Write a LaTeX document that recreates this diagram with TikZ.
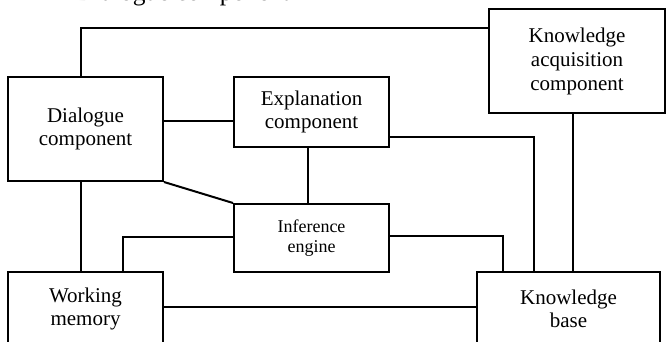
\documentclass[tikz,border=0pt]{standalone}
\usepackage{fontspec}
\setmainfont{Liberation Serif}
\begin{document}
\begin{tikzpicture}[x=1pt,y=-1pt,
  box/.style={draw, line width=2pt, align=center, inner sep=0pt,
    font=\fontsize{21}{23}\selectfont},
  smallbox/.style={box, font=\fontsize{18}{19.5}\selectfont},
  link/.style={line width=2pt, line join=miter}]
\useasboundingbox (0,0) rectangle (666,342);

% caption line running off the top edge
\node[anchor=base west, inner sep=0pt, font=\fontsize{25.5}{28}\selectfont]
  (caption) at (76,1) {Dialogue component};

% components
\node[box, minimum width=155, minimum height=104] (dlg)  at (85.5,129)  {Dialogue\\component};
\node[box, minimum width=155, minimum height=70]  (expl) at (311.5,112) {Explanation\\component};
\node[box, minimum width=176, minimum height=104,
      font=\fontsize{21}{24}\selectfont] (kac) at (577,61) {Knowledge\\acquisition\\component};
\node[smallbox, minimum width=155, minimum height=68] (inf) at (311.5,238) {Inference\\engine};
\node[box, minimum width=155, minimum height=73]  (wm)   at (85.5,308.5)  {Working\\memory};
\node[box, minimum width=183, minimum height=73]  (kb)   at (568.5,308.5) {Knowledge\\base};

% connections
\draw[link] ([xshift=-4.5pt]dlg.north) |- ([yshift=-20pt]kac.north west);
\draw[link] ([yshift=8pt]dlg.east) -- ([yshift=-9pt]expl.west);
\draw[link] ([yshift=-25pt]expl.east) -| ([xshift=-34.5pt]kb.north);
\draw[link] ([xshift=-4pt]kac.south) -- ([xshift=4.5pt]kb.north);
\draw[link] ([xshift=-3.5pt]expl.south) -- ([xshift=-3.5pt]inf.north);
\draw[link] (dlg.south east) -- (inf.north west);
\draw[link] ([xshift=-4.5pt]dlg.south) -- ([xshift=-4.5pt]wm.north);
\draw[link] ([yshift=1pt]inf.west) -| ([xshift=37.5pt]wm.north);
\draw[link] ([yshift=2pt]inf.east) -| ([xshift=-65.5pt]kb.north);
\draw[link] ([yshift=1.5pt]wm.east) -- ([yshift=1.5pt]kb.west);
\end{tikzpicture}
\end{document}
